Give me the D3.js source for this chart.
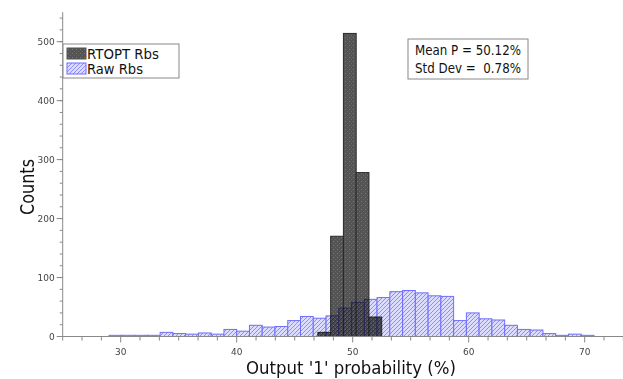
<!DOCTYPE html>
<html>
<head>
<meta charset="utf-8">
<script src="https://cdn.jsdelivr.net/npm/d3@7"></script>
<style>
  body { margin: 0; background: #fff; }
  svg { display: block; font-family: "DejaVu Sans", sans-serif; }
</style>
</head>
<body>
<div id="chart"></div>
<script>
// raw Rbs histogram: bins of width 1.1 starting at 29.0
const rawStart = 29.0;
const rawWidth = 1.1;
const rawCounts = [2, 2, 2, 2, 7, 5, 4, 6, 4, 12, 9, 19, 16, 17, 27, 34, 31, 35, 48, 58,
  63, 66, 76, 78, 74, 69, 68, 27, 40, 30, 28, 19, 12, 11, 5, 2, 4, 2];

// RTOPT Rbs histogram
const optStart = 47.0;
const optWidth = 1.1;
const optCounts = [7, 170, 514, 278, 33];

const xMajorTicks = [30, 40, 50, 60, 70];
const yMajorTicks = [0, 100, 200, 300, 400, 500];
const legendLabels = ['RTOPT Rbs', 'Raw Rbs'];
const statLines = ['Mean P = 50.12%', 'Std Dev =  0.78%'];

const W = 623, H = 379;
const x0 = 62.7, yBase = 336.5;

const svg = d3.select('#chart').append('svg')
  .attr('width', W)
  .attr('height', H);

const defs = svg.append('defs');

const dots = defs.append('pattern')
  .attr('id', 'dots')
  .attr('patternUnits', 'userSpaceOnUse')
  .attr('width', 4).attr('height', 4);
dots.append('rect').attr('width', 4).attr('height', 4).attr('fill', '#545454');
dots.append('rect').attr('x', 1).attr('y', 1).attr('width', 1).attr('height', 1).attr('fill', '#7a7a7a');
dots.append('rect').attr('x', 3).attr('y', 3).attr('width', 1).attr('height', 1).attr('fill', '#6a6a6a');

const hatch = defs.append('pattern')
  .attr('id', 'hatch')
  .attr('patternUnits', 'userSpaceOnUse')
  .attr('width', 4).attr('height', 4);
hatch.append('rect').attr('width', 4).attr('height', 4).attr('fill', '#dcdcff');
hatch.append('path')
  .attr('d', 'M-1,1 l2,-2 M0,4 l4,-4 M3,5 l2,-2')
  .attr('stroke', '#8c8cff')
  .attr('stroke-width', 1);

const x = d3.scaleLinear().domain([25, 75]).range([x0, x0 + 50 * 11.6]);
const y = d3.scaleLinear().domain([0, 550]).range([yBase, 12.2]);

const rawBins = rawCounts.map((c, i) => ({ x0: rawStart + i * rawWidth, x1: rawStart + (i + 1) * rawWidth, c }));
const optBins = optCounts.map((c, i) => ({ x0: optStart + i * optWidth, x1: optStart + (i + 1) * optWidth, c }));

svg.append('g')
  .selectAll('rect')
  .data(optBins)
  .join('rect')
  .attr('x', d => x(d.x0))
  .attr('y', d => y(d.c))
  .attr('width', d => x(d.x1) - x(d.x0))
  .attr('height', d => yBase - y(d.c))
  .attr('fill', 'url(#dots)')
  .attr('stroke', '#2a2a2a')
  .attr('stroke-width', 1);

// raw bars multiplied over the RTOPT bars so the overlap turns navy
svg.append('g')
  .style('mix-blend-mode', 'multiply')
  .selectAll('rect')
  .data(rawBins)
  .join('rect')
  .attr('x', d => x(d.x0))
  .attr('y', d => y(d.c))
  .attr('width', d => x(d.x1) - x(d.x0))
  .attr('height', d => yBase - y(d.c))
  .attr('fill', 'url(#hatch)')
  .attr('stroke', '#6f6fff')
  .attr('stroke-width', 1);

// x axis
const xMinor = d3.range(0, 31).map(k => 25 + k * 10 / 6);
const xAxis = svg.append('g').attr('transform', `translate(0,${yBase})`);
xAxis.append('line')
  .attr('x1', x0).attr('x2', W)
  .attr('stroke', '#888');
xAxis.selectAll('.minor')
  .data(xMinor)
  .join('line')
  .attr('x1', d => x(d)).attr('x2', d => x(d))
  .attr('y1', 0)
  .attr('y2', d => xMajorTicks.some(t => Math.abs(t - d) < 1e-6) ? 6 : 4)
  .attr('stroke', '#888');
xAxis.selectAll('text')
  .data(xMajorTicks)
  .join('text')
  .attr('x', d => x(d))
  .attr('y', 18.5)
  .attr('text-anchor', 'middle')
  .attr('font-size', 9)
  .attr('fill', '#444')
  .text(d => d);

// y axis
const yMinor = d3.range(0, 551, 20);
const yAxis = svg.append('g').attr('transform', `translate(${x0},0)`);
yAxis.append('line')
  .attr('y1', y(550)).attr('y2', yBase)
  .attr('stroke', '#888');
yAxis.selectAll('.minor')
  .data(yMinor)
  .join('line')
  .attr('y1', d => y(d)).attr('y2', d => y(d))
  .attr('x1', -3).attr('x2', 0)
  .attr('stroke', '#888');
yAxis.selectAll('.major')
  .data(yMajorTicks)
  .join('line')
  .attr('y1', d => y(d)).attr('y2', d => y(d))
  .attr('x1', -6).attr('x2', 0)
  .attr('stroke', '#888');
yAxis.selectAll('text')
  .data(yMajorTicks)
  .join('text')
  .attr('x', -8)
  .attr('y', d => y(d))
  .attr('dy', '0.35em')
  .attr('text-anchor', 'end')
  .attr('font-size', 9)
  .attr('fill', '#444')
  .text(d => d);

// axis titles
svg.append('text')
  .attr('x', 351)
  .attr('y', 374)
  .attr('text-anchor', 'middle')
  .attr('font-size', 18)
  .attr('textLength', 210)
  .attr('lengthAdjust', 'spacingAndGlyphs')
  .attr('fill', '#111')
  .text("Output '1' probability (%)");

svg.append('text')
  .attr('transform', 'translate(34,187) rotate(-90)')
  .attr('text-anchor', 'middle')
  .attr('font-size', 20)
  .attr('textLength', 56)
  .attr('lengthAdjust', 'spacingAndGlyphs')
  .attr('fill', '#111')
  .text('Counts');

// legend
const legend = svg.append('g').attr('transform', 'translate(63,44)');
legend.append('rect')
  .attr('width', 116).attr('height', 34)
  .attr('fill', '#fff')
  .attr('stroke', '#888');
legend.selectAll('.sw')
  .data(legendLabels)
  .join('rect')
  .attr('x', 4)
  .attr('y', (d, i) => 4 + i * 15)
  .attr('width', 19).attr('height', 11)
  .attr('fill', (d, i) => i === 0 ? 'url(#dots)' : 'url(#hatch)')
  .attr('stroke', (d, i) => i === 0 ? '#555' : '#6f6fff');
legend.selectAll('text')
  .data(legendLabels)
  .join('text')
  .attr('x', 24)
  .attr('y', (d, i) => 10 + i * 15)
  .attr('dy', '0.36em')
  .attr('font-size', 13.5)
  .attr('textLength', (d, i) => i === 0 ? 72 : 56)
  .attr('lengthAdjust', 'spacingAndGlyphs')
  .attr('fill', '#111')
  .text(d => d);

// stats box
const stats = svg.append('g').attr('transform', 'translate(408,39)');
stats.append('rect')
  .attr('width', 120).attr('height', 40)
  .attr('fill', '#fff')
  .attr('stroke', '#888');
stats.selectAll('text')
  .data(statLines)
  .join('text')
  .attr('x', 7)
  .attr('y', (d, i) => 11 + i * 18)
  .attr('dy', '0.36em')
  .attr('font-size', 13.5)
  .attr('textLength', 106)
  .attr('lengthAdjust', 'spacingAndGlyphs')
  .attr('fill', '#111')
  .style('white-space', 'pre')
  .text(d => d);
</script>
</body>
</html>
